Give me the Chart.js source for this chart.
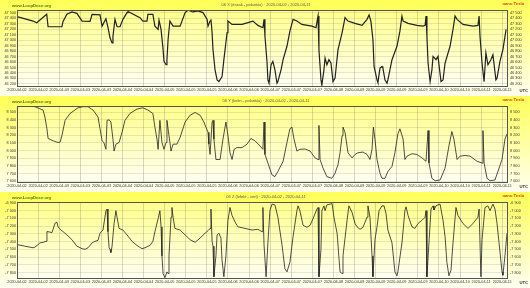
<!DOCTYPE html>
<html lang="hu">
<head>
<meta charset="UTF-8" />
<title>Magnetometer 2020-04-02 - 2020-04-11</title>
<script src="https://cdn.jsdelivr.net/npm/chart.js"></script>
<style>
  html, body { margin: 0; padding: 0; background: #ffffff; }
  .panel { width: 530px; height: 96px; }
  canvas { display: block; }
</style>
</head>
<body>
<div class="panel"><canvas id="chartX" width="530" height="96"></canvas></div>
<div class="panel"><canvas id="chartY" width="530" height="96"></canvas></div>
<div class="panel"><canvas id="chartZ" width="530" height="96"></canvas></div>
<script>
// x axis: hours since 2020-04-02 00:00 UTC
const xMin = 0;
const xMax = 216;
const xTickHours = [0, 9.3, 18.6, 27.9, 37.2, 46.5, 55.8, 65.1, 74.4, 83.7, 93, 102.3,
  111.6, 120.9, 130.2, 139.5, 148.8, 158.1, 167.4, 176.7, 186, 195.3, 204.6, 213.9];
const xTickLabels = ['2020-04-02', '2020-04-02', '2020-04-03', '2020-04-03', '2020-04-03', '2020-04-04',
  '2020-04-04', '2020-04-05', '2020-04-05', '2020-04-05', '2020-04-06', '2020-04-06',
  '2020-04-07', '2020-04-07', '2020-04-07', '2020-04-08', '2020-04-08', '2020-04-09',
  '2020-04-09', '2020-04-09', '2020-04-10', '2020-04-10', '2020-04-11', '2020-04-11'];

// panel 1 - X
const xHours = [0, 7.1, 8.7, 13.1, 13.7, 19.8, 20.3, 22, 24.2, 26.4, 28.7, 32.2, 33.1, 36.6, 37.5, 39.2,
  40.1, 41, 41.9, 42.3, 43.2, 44.1, 45.4, 46.7, 48.5, 48.9, 54.2, 55.5, 57.3, 57.7, 59.9, 60.8,
  62.2, 62.6, 63.5, 64.4, 64.8, 65.7, 66.1, 66.6, 67.4, 68.8, 71.9, 74.1, 75.4, 77.6, 79.8, 82,
  83.8, 84.2, 85.1, 85.5, 86, 86.4, 87.3, 88.2, 89, 90.4, 91.2, 92.6, 93, 94.8, 99.2, 101.8,
  104, 106.2, 108.4, 108.9, 109.3, 110.2, 110.6, 111.1, 112, 112.8, 113.7, 114.6, 115, 116.4,
  117.3, 119, 120.3, 121.7, 123.4, 125.6, 130, 131.8, 132.7, 133.1, 134, 134.4, 135.3, 135.8,
  136.6, 137.5, 138.4, 139.3, 140.2, 141.5, 143.3, 144.6, 145.9, 149, 152.1, 154.3, 155.2, 156,
  156.9, 157.4, 158.7, 159.1, 160, 160.9, 161.3, 162.2, 163.1, 163.5, 165.3, 167.5, 168.8,
  169.7, 170.2, 172.4, 176.3, 179, 179.9, 180.3, 180.7, 181.2, 182.1, 182.9, 183.4, 184.7,
  185.6, 186.9, 187.8, 188.7, 190.9, 192.2, 193.1, 194, 196.6, 201, 203.2, 203.7, 204.1, 205,
  205.9, 206.7, 207.6, 208.9, 209.8, 211.1, 211.6, 212.9, 214.2, 215.6];
const xValues = [47433, 47352, 47322, 47476, 47248, 47248, 47346, 47476, 47519, 47494, 47352, 47346,
  47476, 47467, 47259, 47396, 47235, 47044, 46952, 47074, 47383, 47248, 47248, 47383, 47507,
  47526, 47415, 47352, 47352, 47476, 47476, 47259, 47198, 47370, 47198, 46828, 46611, 46550,
  46643, 47013, 47352, 47259, 47259, 47507, 47550, 47519, 47537, 47507, 47383, 47259, 47352,
  47383, 47137, 46828, 46457, 46272, 46241, 46333, 46643, 47137, 47352, 47291, 47291, 47322,
  47352, 47272, 47230, 47383, 47074, 46611, 46272, 46211, 46550, 46611, 46457, 46211, 46241,
  46457, 46643, 46889, 47167, 47383, 47352, 47291, 47259, 47230, 47444, 46828, 46272, 46180,
  46457, 46674, 46550, 46643, 46581, 46241, 46304, 46828, 47137, 47415, 47352, 47309, 47272,
  47383, 47463, 47352, 47013, 46519, 46272, 46222, 46489, 46519, 46489, 46272, 46211, 46272,
  46643, 46889, 47167, 47444, 47352, 47309, 47272, 47259, 47272, 47444, 47074, 46581, 46241,
  46457, 46704, 46643, 46704, 46241, 46272, 46581, 46889, 47198, 47444, 47383, 47291, 47259,
  47272, 47444, 47074, 46581, 46241, 46767, 46550, 46643, 46735, 46272, 46304, 46611, 46828,
  47198];
const xTicks = [46200, 46300, 46400, 46500, 46600, 46700, 46800, 46900, 47000, 47100, 47200, 47300, 47400, 47500];

// panel 2 - Y
const yHours = [0, 4.4, 7.9, 11.5, 12.3, 13.2, 13.7, 15.9, 18.1, 19, 19.8, 21.2, 23.4, 24.7, 26.9,
  29.1, 31.3, 33.5, 35.7, 36.6, 37.5, 38.3, 39.2, 39.7, 40.6, 41.4, 42.3, 42.8, 43.6, 45, 46.3,
  47.6, 49.8, 52.9, 55.5, 57.7, 59.9, 60.8, 61.7, 62.2, 63, 63.9, 64.8, 65.7, 66.1, 67, 67.9,
  68.8, 70.5, 71.9, 74.1, 76.3, 78.5, 80.7, 82.4, 84.2, 84.6, 85.1, 86, 86.4, 86.8, 87.7, 89.5,
  90.8, 92.1, 93, 93.9, 94.8, 95.7, 97, 99.2, 101.4, 103.1, 104.9, 107.1, 108.4, 108.9, 109.3,
  110.6, 112.4, 113.7, 115, 117.3, 119, 120.3, 121.2, 122.1, 123.4, 124.7, 127, 129.2, 131.4,
  132.7, 133.1, 133.6, 134.9, 136.6, 138.8, 140.2, 141.5, 142.4, 143.3, 143.7, 144.6, 145.9,
  147.7, 149, 150.3, 152.5, 154.3, 155.6, 156.5, 157.1, 157.8, 158.7, 160, 160.9, 162.2, 163.5,
  165.3, 166.6, 167.9, 168.8, 170.2, 171, 171.9, 174.1, 176.3, 178.5, 180.3, 181.2, 181.6,
  182.9, 184.3, 186.5, 188.7, 190.4, 191.7, 192.6, 194, 195.3, 197.5, 199.7, 202.8, 205, 205.4,
  205.9, 207.2, 208.5, 210.7, 212, 213.8, 215.1, 216];
const yValues = [8571, 8578, 8571, 8527, 8437, 8283, 8157, 8127, 8104, 8110, 8193, 8393, 8483, 8510,
  8557, 8571, 8571, 8527, 8437, 8283, 8127, 8104, 8016, 8393, 8400, 8371, 8149, 7993, 8083, 8104,
  8237, 8393, 8483, 8540, 8557, 8527, 8483, 8304, 8149, 8016, 8393, 8104, 8016, 8104, 8393, 8193,
  7993, 8083, 8083, 8171, 8371, 8460, 8496, 8460, 8371, 8237, 8083, 7949, 8371, 8393, 8149, 7883,
  7883, 8149, 8371, 8193, 7971, 7883, 8016, 8038, 8038, 8083, 8157, 8127, 8060, 8016, 8371, 7949,
  7837, 7683, 7660, 7727, 7860, 8104, 8283, 8304, 8149, 7993, 8016, 8020, 7993, 7904, 7883, 8327,
  7883, 7771, 7660, 7638, 7704, 7816, 7971, 8193, 8304, 8237, 7971, 7904, 7949, 7971, 7980, 7949,
  7883, 8016, 8304, 8149, 7883, 7704, 7638, 7638, 7727, 7793, 7971, 8216, 8283, 8149, 7883, 7927,
  7958, 7949, 7904, 7860, 8260, 7837, 7638, 7607, 7616, 7771, 8060, 8247, 8149, 7883, 7927, 7936,
  7927, 7860, 7837, 8260, 7837, 7638, 7607, 7616, 7727, 7883, 8149, 8216];
const yTicks = [7600, 7700, 7800, 7900, 8000, 8100, 8200, 8300, 8400, 8500];

// panel 3 - Z
const zHours = [0, 3.5, 7.1, 7.9, 9.3, 10.1, 11.5, 12.8, 13.2, 13.7, 15.4, 15.9, 16.8, 17.6, 18.1, 19,
  20.3, 22, 24.2, 26.4, 28.7, 30, 31.3, 33.1, 34.4, 35.7, 36.6, 37.9, 39.2, 39.7, 40.1, 40.6, 41,
  41.4, 41.9, 42.8, 43.6, 44.1, 45, 46.7, 48.5, 50.7, 52.9, 55.1, 56.4, 58.6, 59.9, 60.8, 62.2,
  63, 63.5, 63.9, 64.4, 65.2, 66.1, 66.6, 67, 67.9, 68.3, 68.8, 69.6, 71.9, 74.1, 76.3, 78.5,
  80.7, 82.9, 84.2, 85.1, 85.5, 86, 86.4, 86.8, 87.7, 88.2, 89, 89.9, 90.4, 91.2, 92.1, 93, 93.9,
  94.8, 96.1, 97.4, 100.5, 103.6, 106.2, 108, 108.4, 108.9, 109.8, 110.6, 111.5, 112.4, 113.7,
  115, 116.8, 118.1, 119, 120.3, 121.7, 123.4, 123.9, 124.7, 126.1, 127.8, 129.2, 130.5, 132.2,
  132.7, 133.1, 134, 134.4, 135.3, 135.8, 136.6, 138, 138.9, 139.7, 141.1, 142.4, 143.3, 143.7,
  145.5, 146.3, 147.7, 149, 149.9, 151.2, 152.5, 154.3, 154.7, 155.6, 156.5, 156.9, 157.8, 158.7,
  159.6, 160.9, 161.8, 162.7, 163.5, 165.3, 166.6, 167.5, 167.9, 169.7, 171, 171.5, 172.4, 174.1,
  175.4, 176.8, 178.5, 179.9, 180.3, 180.7, 181.6, 182.5, 183.4, 183.8, 184.7, 185.6, 186.5,
  187.8, 188.7, 189.5, 190.4, 191.3, 192.2, 193.5, 194.4, 196.6, 198.8, 201, 203.2, 203.7, 204.5,
  205, 206.3, 207.6, 208.5, 209.8, 210.7, 211.6, 212.5, 213.8, 214.2, 215.1, 216];
const zValues = [-7438, -7459, -7479, -7471, -7438, -7416, -7409, -7396, -7271, -7271, -7284, -7241,
  -7159, -7150, -7209, -7241, -7271, -7313, -7375, -7459, -7491, -7500, -7479, -7416, -7396, -7384,
  -7291, -7250, -7000, -6979, -7271, -7479, -7500, -7541, -7459, -7166, -7000, -7084, -7229, -7250,
  -7313, -7396, -7450, -7491, -7479, -7450, -7396, -7271, -7104, -7000, -7209, -7584, -7813, -7866,
  -7791, -7813, -7584, -7084, -6959, -7084, -7229, -7250, -7313, -7375, -7409, -7354, -7291, -7259,
  -7229, -6979, -7396, -7459, -7854, -7584, -7313, -7291, -7354, -7646, -7854, -7584, -7125, -6959,
  -7063, -7146, -7209, -7229, -7250, -7241, -7271, -6959, -7441, -7854, -7416, -7000, -6916, -6925,
  -7084, -7438, -7750, -7791, -7666, -7334, -7000, -6938, -7000, -7188, -7216, -7188, -7104, -6979,
  -6959, -7854, -7500, -7000, -6938, -7000, -6925, -6916, -6909, -7084, -7291, -7791, -7813, -7584,
  -7125, -6938, -7021, -7166, -7209, -7241, -7216, -7084, -6938, -7084, -7584, -7854, -7375, -7209,
  -7000, -6938, -6938, -7041, -7250, -7416, -7791, -7841, -7791, -7416, -7000, -6950, -7063, -7209,
  -7229, -7166, -7125, -7084, -7000, -7854, -7416, -6979, -6938, -6991, -6938, -6925, -6916, -7125,
  -7334, -7666, -7841, -7771, -7416, -6959, -7063, -7166, -7229, -7166, -7084, -6979, -7854, -7375,
  -6959, -6938, -7000, -6916, -6979, -7166, -7416, -7791, -7834, -7584, -7291];
const zTicks = [-7800, -7700, -7600, -7500, -7400, -7300, -7200, -7100, -7000, -6900];

const siteText = 'www.LoopDose.org';
const unitText = 'nano Tesla';
const utcText = 'UTC';

function fmt(v) {
  return String(v).replace(/\B(?=(\d{3})+(?!\d))/g, ' ');
}

// backgrounds, frame and the small texts
const panelDeco = {
  id: 'panelDeco',
  beforeDraw(chart, args, opts) {
    const c = chart.ctx, a = chart.chartArea, w = chart.width, h = chart.height;
    let g = c.createLinearGradient(0, 0, 0, h);
    g.addColorStop(0, '#ffff55');
    g.addColorStop(1, '#fffff2');
    c.fillStyle = g;
    c.fillRect(0, 0, w, h);
    g = c.createLinearGradient(0, a.top, 0, a.bottom);
    g.addColorStop(0, '#ffff8c');
    g.addColorStop(1, '#fffff2');
    c.fillStyle = g;
    c.fillRect(a.left, a.top, a.right - a.left, a.bottom - a.top);
  },
  afterDraw(chart, args, opts) {
    const c = chart.ctx, a = chart.chartArea;
    c.save();
    c.strokeStyle = '#555';
    c.lineWidth = 1;
    c.strokeRect(Math.round(a.left) + 0.5, Math.round(a.top) + 0.5,
      Math.round(a.right - a.left), Math.round(a.bottom - a.top));
    c.textBaseline = 'middle';
    if (opts.site) {
      c.font = 'bold 4.2px "Liberation Sans"';
      c.fillStyle = '#4d7f00';
      c.textAlign = 'left';
      c.fillText(siteText, 12, 6);
    }
    c.font = '4px "Liberation Sans"';
    c.fillStyle = '#555';
    c.textAlign = 'center';
    c.fillText(opts.title, 266, 5);
    c.font = 'bold 4.2px "Liberation Sans"';
    c.fillStyle = '#e04000';
    c.textAlign = 'right';
    c.fillText(unitText, 524, 4);
    c.fillStyle = '#333';
    c.fillText(utcText, 528, 91);
    c.restore();
  }
};

function makePanel(id, hours, values, yMin, yMax, ticks, title, site, lineW) {
  const pts = hours.map((h, i) => ({ x: h, y: values[i] }));
  const yAxis = (pos, width, grid) => ({
    type: 'linear',
    position: pos,
    min: yMin,
    max: yMax,
    afterBuildTicks: s => { s.ticks = ticks.map(v => ({ value: v })); },
    afterFit: s => { s.width = width; },
    border: { display: false },
    grid: { display: grid, color: 'rgba(120,120,90,0.3)', lineWidth: 0.6, drawTicks: false },
    ticks: {
      font: { family: 'Liberation Sans', size: 3.8 },
      color: '#3a3a3a',
      padding: pos === 'left' ? 1 : 3,
      autoSkip: false,
      callback: v => fmt(v)
    }
  });
  return new Chart(document.getElementById(id), {
    type: 'line',
    data: {
      datasets: [{
        data: pts,
        borderColor: '#222',
        borderWidth: lineW,
        pointRadius: 0,
        tension: 0,
        fill: false
      }]
    },
    options: {
      responsive: false,
      animation: false,
      layout: { padding: { top: 10, left: 0, right: 0, bottom: 0 } },
      plugins: {
        legend: { display: false },
        tooltip: { enabled: false },
        panelDeco: { title: title, site: site }
      },
      scales: {
        x: {
          type: 'linear',
          min: xMin,
          max: xMax,
          afterBuildTicks: s => { s.ticks = xTickHours.map(v => ({ value: v })); },
          afterFit: s => { s.height = 10; },
          border: { display: false },
          grid: { color: 'rgba(90,90,90,0.4)', lineWidth: 0.6, drawTicks: false },
          ticks: {
            font: { family: 'Liberation Sans', size: 3.8 },
            color: '#3a3a3a',
            padding: 2,
            maxRotation: 0,
            autoSkip: false,
            callback: (v, i) => xTickLabels[i]
          }
        },
        y: yAxis('left', 17, true),
        y2: yAxis('right', 23, false)
      }
    },
    plugins: [panelDeco]
  });
}

makePanel('chartX', xHours, xValues, 46160, 47555, xTicks,
  '06 X (észak - polaritás) · 2020-04-02 - 2020-04-11', true, 1.2);
makePanel('chartY', yHours, yValues, 7590, 8580, yTicks,
  '06 Y (kelet - polaritás) · 2020-04-02 - 2020-04-11', true, 0.8);
makePanel('chartZ', zHours, zValues, -7870, -6888, zTicks,
  '06 Z (lefelé - vert) · 2020-04-02 - 2020-04-11', true, 0.8);
</script>
</body>
</html>
